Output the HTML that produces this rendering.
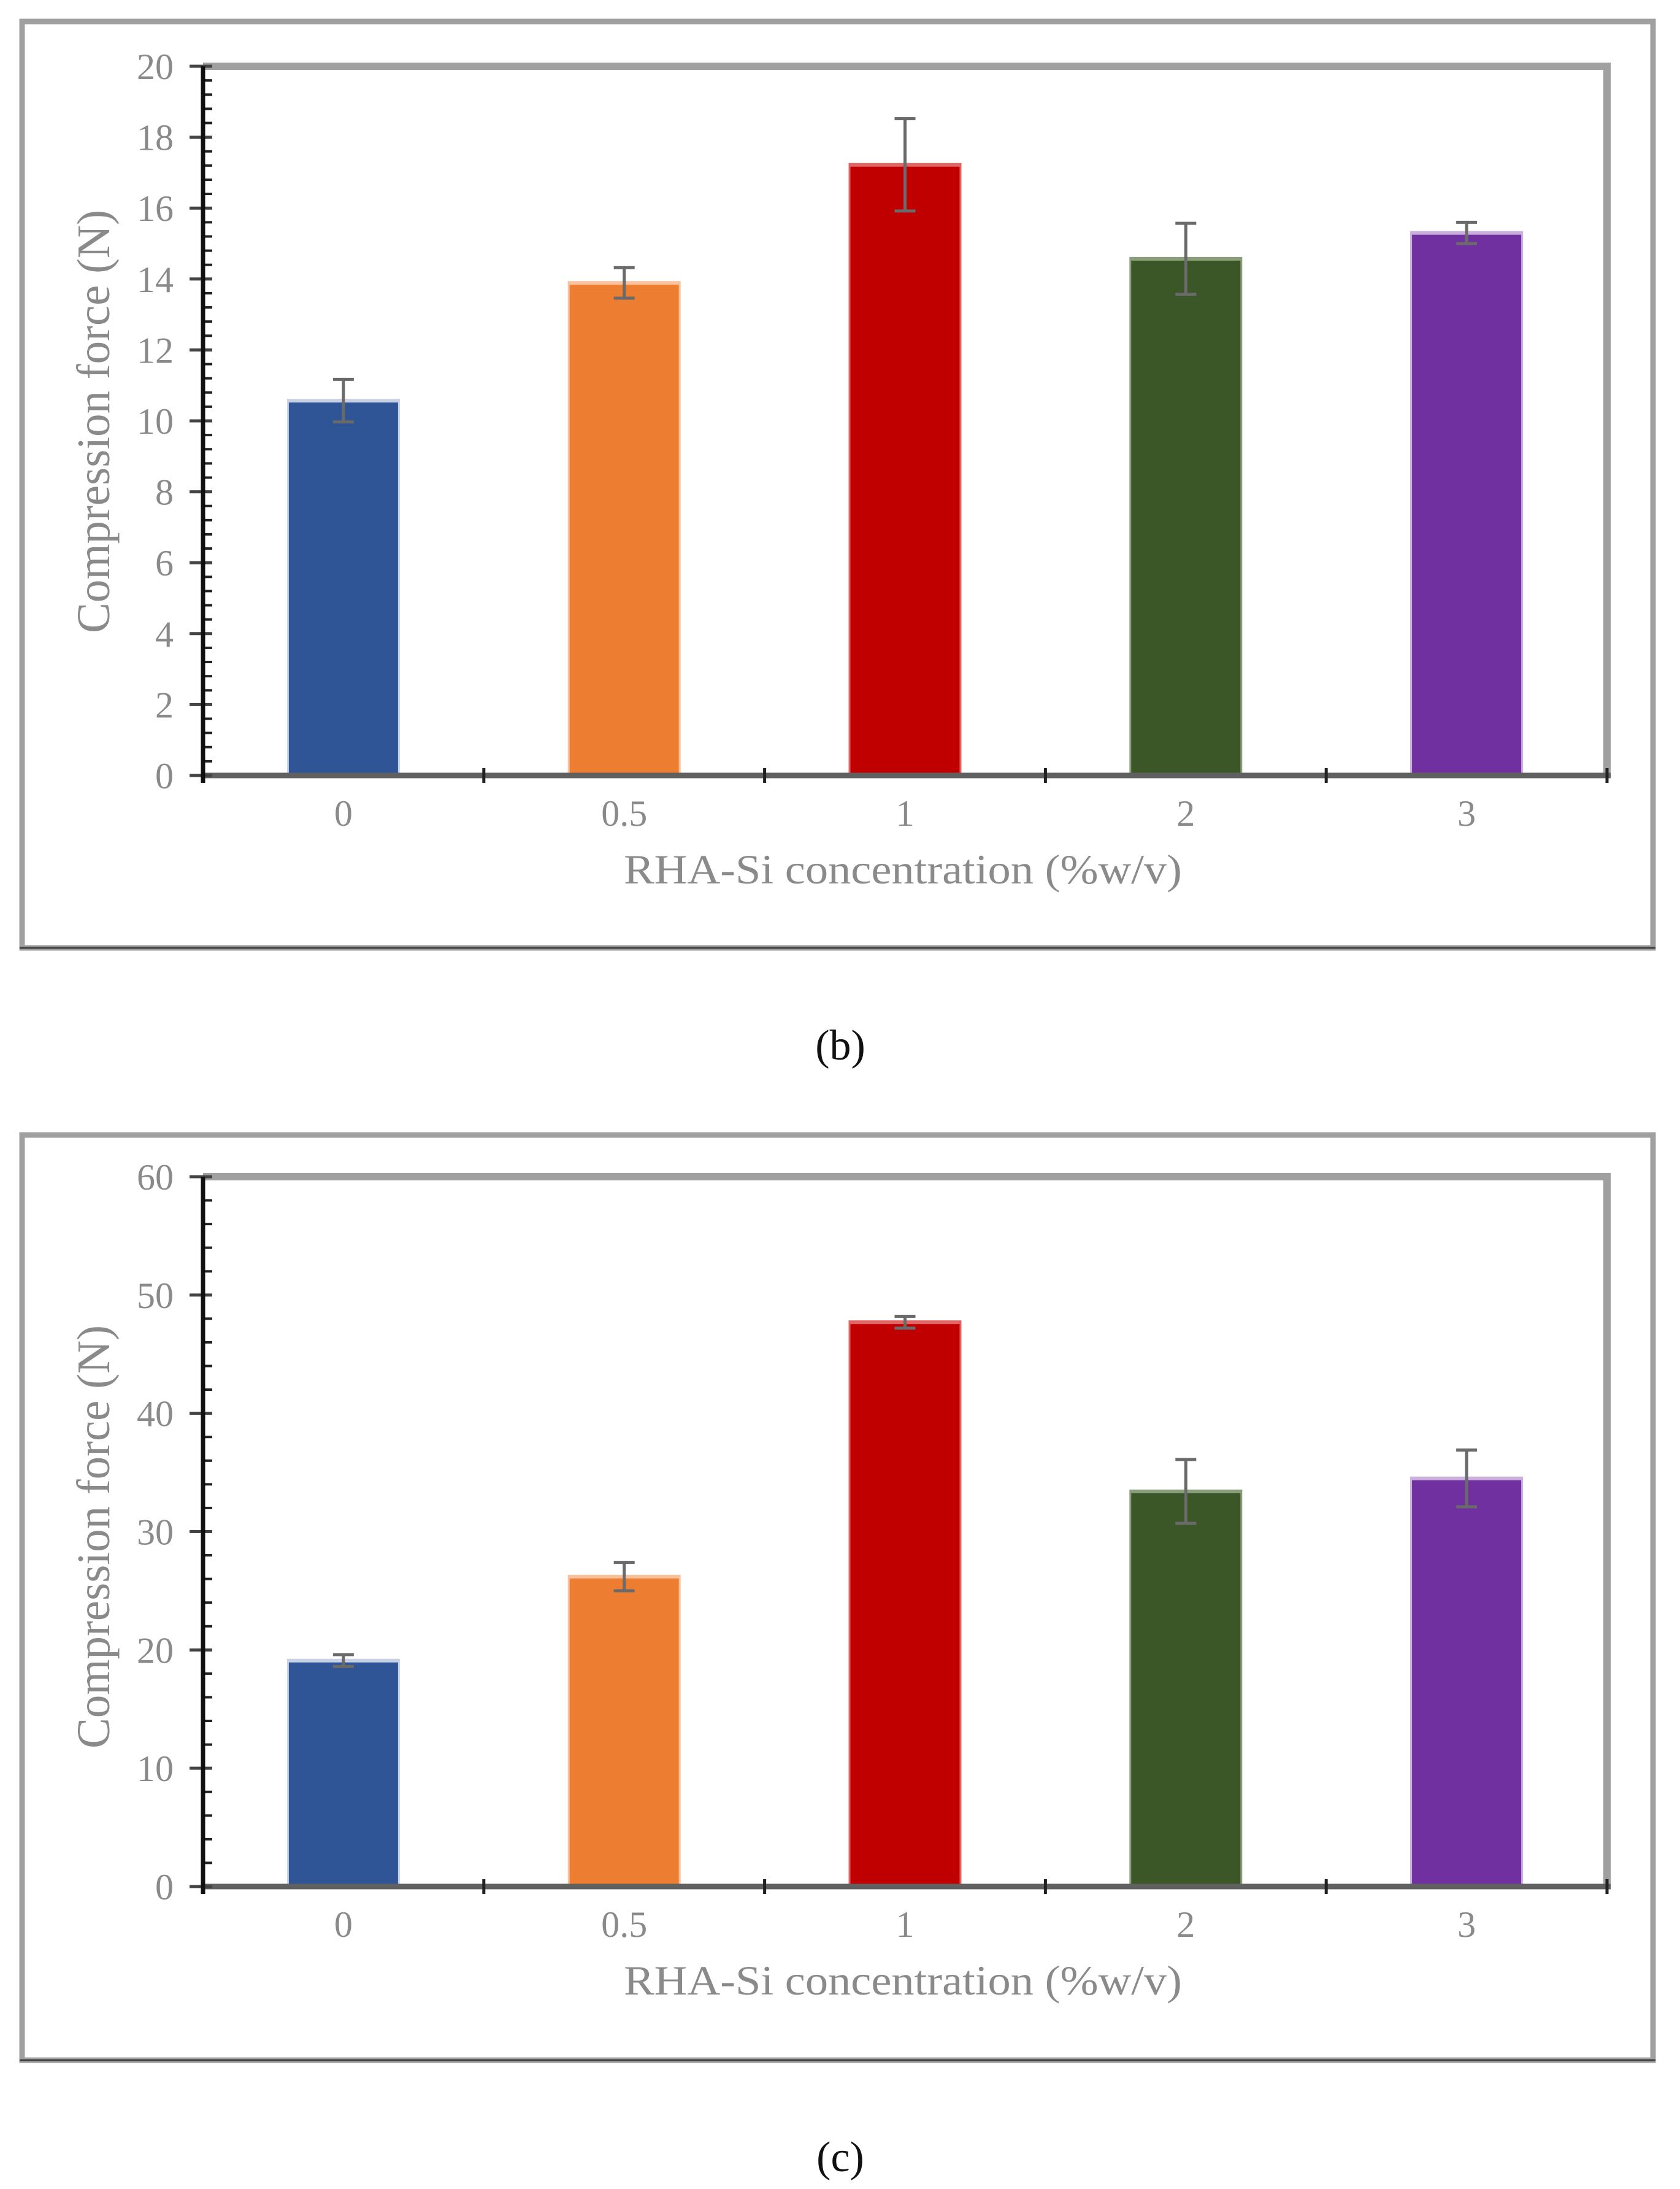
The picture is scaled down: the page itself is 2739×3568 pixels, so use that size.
<!DOCTYPE html>
<html><head><meta charset="utf-8">
<style>
html,body{margin:0;padding:0;background:#fff;}
svg{display:block;}
text{font-family:"Liberation Serif",serif;}
</style></head>
<body>
<svg id="svg" width="2739" height="3568" viewBox="0 0 2739 3568" xmlns="http://www.w3.org/2000/svg">
</svg>
<script>
const categories = ["0","0.5","1","2","3"];
const colors = ["#2f5597","#ed7d31","#c00000","#3b5727","#7030a0"];
const edgeColors = ["#c9d3e8","#f8c29f","#e06666","#8a9e7c","#c9b0dd"];
const valuesB = [10.57, 13.89, 17.22, 14.57, 15.30];
const errorsB = [0.60, 0.43, 1.30, 1.00, 0.30];
const ticksB = [0,2,4,6,8,10,12,14,16,18,20];
const valuesC = [19.1, 26.2, 47.7, 33.4, 34.5];
const errorsC = [0.5, 1.2, 0.5, 2.7, 2.4];
const ticksC = [0,10,20,30,40,50,60];

const NS = "http://www.w3.org/2000/svg";
const svg = document.getElementById('svg');
function mk(tag, attrs, parent){
  const e = document.createElementNS(NS, tag);
  for (const k in attrs) e.setAttribute(k, attrs[k]);
  (parent||svg).appendChild(e);
  return e;
}

function drawChart(cfg){
  const g = mk('g', {});
  
  
  const L=331, R=2620, T=cfg.top, B=cfg.bottom;
  const ymax = cfg.ticks[cfg.ticks.length-1];
  const y = v => B - (v/ymax)*(B-T);
  const band = (R-L)/categories.length;
  const x = i => L + band*(i+0.5);

  const fr = mk('rect', {x:36, y:cfg.frameTop, width:2659, height:cfg.frameBottom-cfg.frameTop, fill:'none', stroke:'#a0a0a0', 'stroke-width':9}, g);
  
  
  const fb = mk('line', {x1:32, x2:2699, y1:cfg.frameBottom, y2:cfg.frameBottom, stroke:'#404040', 'stroke-width':3}, g);
  
  

  const pb = mk('path', {d:`M${L},${T} H${R} V${B}`, fill:'none', stroke:'#a0a0a0', 'stroke-width':12}, g);
  
  

  categories.forEach((c,i)=>{
    const v = cfg.values[i], e = cfg.errors[i];
    const bw = 178;
    const bx = x(i) - bw/2;
    const edge = mk('rect', {x:bx-3, y:y(v)-3, width:bw+6, height:B-y(v)+3, fill:edgeColors[i]}, g);
    
    
    const r = mk('rect', {x:bx, y:y(v)+3, width:bw, height:B-y(v)-3, fill:colors[i]}, g);
    
    
    const eb = mk('path', {d:`M${x(i)},${y(v+e)} V${y(v-e)} M${x(i)-17},${y(v+e)} H${x(i)+17} M${x(i)-17},${y(v-e)} H${x(i)+17}`, stroke:'#6a6a6a', 'stroke-width':5, fill:'none'}, g);
    
    
    const t = mk('text', {x:x(i), y:B+82, 'font-size':60, fill:'#8a8a8a', 'text-anchor':'middle'}, g);
    t.textContent = c;
    
    
  });

  const xa = mk('line', {x1:L, x2:R+6, y1:B, y2:B, stroke:'#606060', 'stroke-width':9}, g);
  
  
  for (let i=0;i<=categories.length;i++){
    const tk = mk('line', {x1:L+band*i, x2:L+band*i, y1:B-12, y2:B+12, stroke:'#222', 'stroke-width':5}, g);
    
    
  }

  const step = cfg.ticks[1]-cfg.ticks[0];
  const minorStep = step/cfg.minorDiv;
  for (let v=0; v<=ymax+1e-9; v+=minorStep){
    const mt = mk('line', {x1:L, x2:L+15, y1:y(v), y2:y(v), stroke:'#222', 'stroke-width':4}, g);
    
    
  }
  cfg.ticks.forEach(v=>{
    const mt = mk('line', {x1:L-22, x2:L+15, y1:y(v), y2:y(v), stroke:'#444', 'stroke-width':5}, g);
    
    
    const t = mk('text', {x:L-48, y:y(v)+21, 'font-size':60, fill:'#8a8a8a', 'text-anchor':'end'}, g);
    t.textContent = v;
    
    
  });
  const ya = mk('line', {x1:L, x2:L, y1:T, y2:B+12, stroke:'#111', 'stroke-width':7}, g);
  
  

  const yt = mk('text', {x:0, y:0, 'font-size':76, fill:'#8a8a8a', 'text-anchor':'middle', transform:`translate(178,${cfg.yTitleY}) rotate(-90)`, textLength:690, lengthAdjust:'spacingAndGlyphs'}, g);
  yt.textContent = 'Compression force (N)';
  
  
  const xt = mk('text', {x:1472, y:B+176, 'font-size':68, fill:'#8a8a8a', 'text-anchor':'middle', textLength:910, lengthAdjust:'spacingAndGlyphs'}, g);
  xt.textContent = 'RHA-Si concentration (%w/v)';
  
  

  const cap = mk('text', {x:1370, y:cfg.captionY+24, 'font-size':70, fill:'#111', 'text-anchor':'middle'});
  cap.textContent = cfg.caption;
  
  
}

drawChart({name:'chart-b', top:108, bottom:1264, frameTop:35, frameBottom:1545, values:valuesB, errors:errorsB, ticks:ticksB, minorDiv:5, yTitleY:687, caption:'(b)', captionY:1703});
drawChart({name:'chart-c', top:1918, bottom:3075, frameTop:1850, frameBottom:3358, values:valuesC, errors:errorsC, ticks:ticksC, minorDiv:5, yTitleY:2505, caption:'(c)', captionY:3515});
</script>
</body></html>
